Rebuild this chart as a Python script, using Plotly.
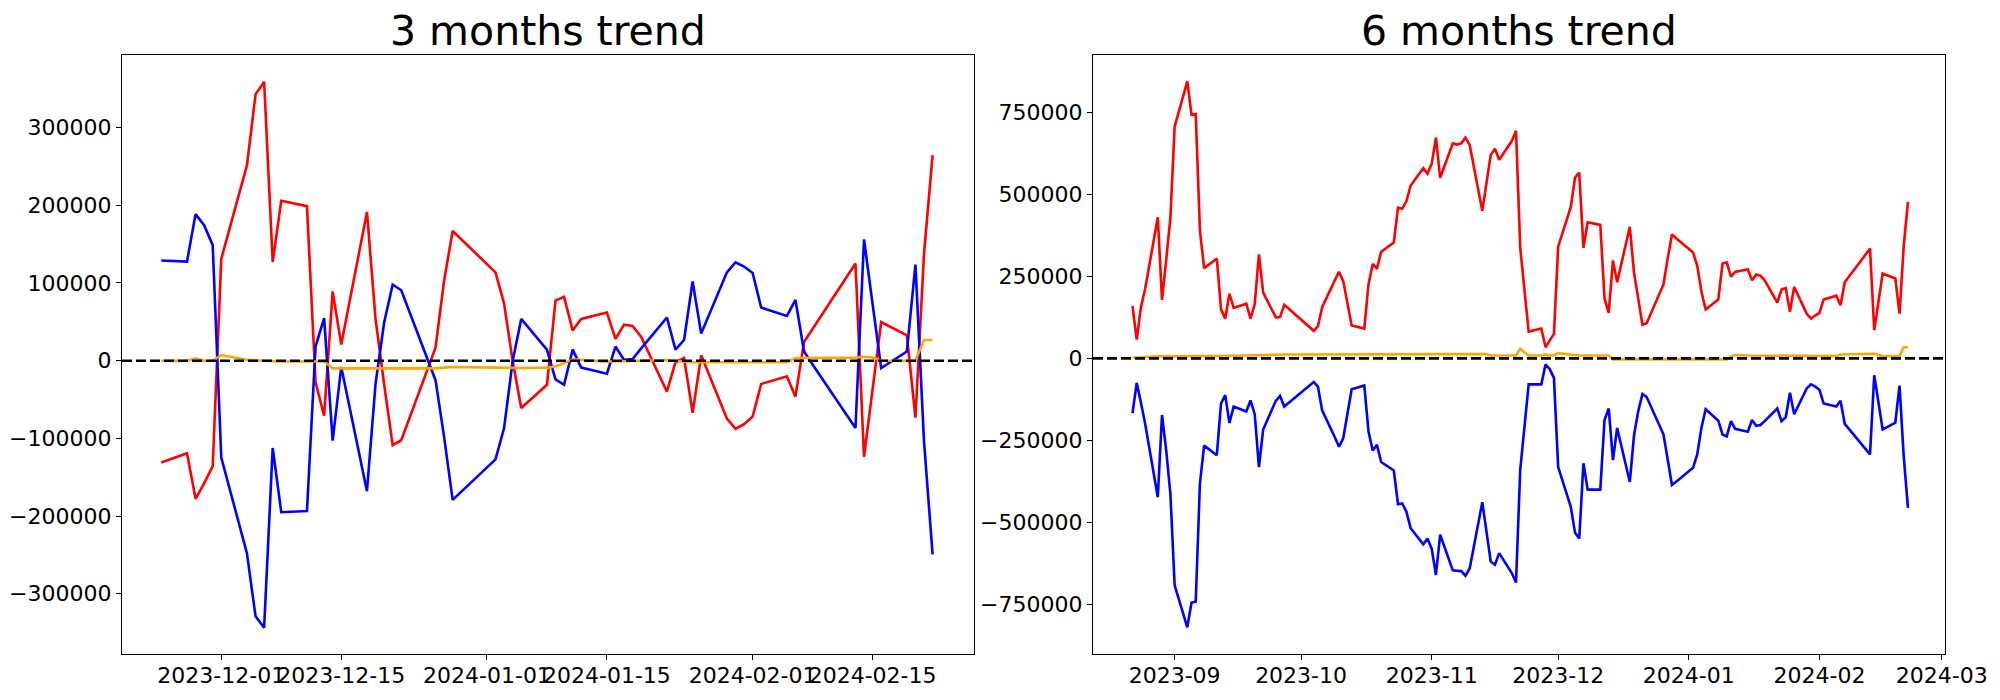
import plotly.graph_objects as go

# ---------------- 3 months data ----------------
dates_3m = (
    ["2023-11-24", "2023-11-27", "2023-11-28", "2023-11-29", "2023-11-30"]
    + ["2023-12-01", "2023-12-04", "2023-12-05", "2023-12-06", "2023-12-07", "2023-12-08",
       "2023-12-11", "2023-12-12", "2023-12-13", "2023-12-14", "2023-12-15",
       "2023-12-18", "2023-12-19", "2023-12-20", "2023-12-21", "2023-12-22",
       "2023-12-26", "2023-12-27", "2023-12-28"]
    + ["2024-01-02", "2024-01-03", "2024-01-04", "2024-01-05",
       "2024-01-08", "2024-01-09", "2024-01-10", "2024-01-11", "2024-01-12",
       "2024-01-15", "2024-01-16", "2024-01-17", "2024-01-18", "2024-01-19",
       "2024-01-22", "2024-01-23", "2024-01-24", "2024-01-25", "2024-01-26",
       "2024-01-29", "2024-01-30", "2024-01-31"]
    + ["2024-02-01", "2024-02-02", "2024-02-05", "2024-02-06", "2024-02-07", "2024-02-08",
       "2024-02-13", "2024-02-14", "2024-02-15", "2024-02-16",
       "2024-02-19", "2024-02-20", "2024-02-21", "2024-02-22"]
)
red_3m = (
    [-131000, -119200, -177800, -158000, -135900]
    + [131000, 251600, 342700, 359000, 127000, 205800,
       198900, -27600, -70900, 89100, 20700,
       191500, 53700, -30000, -108800, -102400,
       16700, 102900, 166900]
    + [113700, 73400, -500, -61000,
       -31000, 77300, 82200, 38900, 53700,
       62000, 28100, 46300, 44800, 30500,
       -39900, -2000, 3400, -67000, 6900,
       -74400, -87600, -81700]
    + [-71900, -30000, -20200, -46300, 24100, 41000,
       125100, -123600, -37000, 49700,
       32500, -73400, 137400, 264400]
)
blue_3m = (
    [129000, 127500, 188600, 174300, 148700]
    + [-124600, -248200, -328900, -343700, -112300, -195000,
       -193500, 18200, 54700, -102900, -8000,
       -167900, -30000, 48700, 98000, 90600,
       -25100, -98000, -179200]
    + [-127000, -86700, -500, 53700,
       14300, -24100, -31000, 14300, -8900,
       -16700, 18200, 1000, 2000, 15800,
       55600, 14300, 26600, 101900, 35000,
       113700, 126500, 121100]
    + [112800, 68400, 57600, 78300, 11800, -5000,
       -86700, 156100, 73000, -9400,
       11800, 123600, -103900, -249200]
)
orange_3m = (
    [0, 0, 3000, 0, 0]
    + [7300, 1000, 500, 0, -500, -1000,
       -1000, -1000, -1000, -9900, -9900,
       -9900, -9900, -9900, -9900, -9900,
       -9900, -8900, -8200]
    + [-9000, -9200, -9400, -9400,
       -9000, -7500, -3400, 2100, 1000,
       -1300, -800, -1000, -500, 0,
       900, -500, -1500, -2000, -2000,
       -2000, -2000, -2000]
    + [-2000, -2000, -2000, 3400, 3400, 3500,
       3900, 5100, 4000, 0,
       0, 0, 26600, 26600]
)

# ---------------- 6 months data ----------------
dates_6m = (
    ["2023-08-%02d" % d for d in [22, 23, 24, 25, 28, 29, 30, 31]]
    + ["2023-09-%02d" % d for d in [1, 4, 5, 6, 7, 8, 11, 12, 13, 14, 15, 18, 19, 20, 21, 22, 25, 26, 27]]
    + ["2023-10-%02d" % d for d in [4, 5, 6, 9, 10, 11, 12, 13, 16, 17, 18, 19, 20, 23, 24, 25, 26, 27, 30, 31]]
    + ["2023-11-%02d" % d for d in [1, 2, 3, 6, 7, 8, 9, 10, 13, 14, 15, 16, 17, 20, 21, 22, 24, 27, 28, 29, 30]]
    + ["2023-12-%02d" % d for d in [1, 4, 5, 6, 7, 8, 11, 12, 13, 14, 15, 18, 19, 20, 21, 22, 26, 27, 28, 29]]
    + ["2024-01-%02d" % d for d in [2, 3, 4, 5, 8, 9, 10, 11, 12, 15, 16, 17, 18, 19, 22, 23, 24, 25, 26, 29, 30, 31]]
    + ["2024-02-%02d" % d for d in [1, 2, 5, 6, 7, 13, 14, 16, 19, 20, 21, 22]]
)
red_6m = (
    [159600, 57100, 156100, 212100, 430000, 178300, 300000, 430000]
    + [706200, 843700, 742300, 744600, 389200, 275000, 304100, 150300, 121200, 196900, 153800,
       166600, 121200, 165500, 317000, 200400, 124700, 125900, 163100]
    + [83900, 97900, 156100, 237700, 263400, 235400, 167800, 100200, 90900, 226100, 287800,
       272700, 325100, 353100, 459100, 455600, 479000, 526700, 579100, 562800]
    + [593100, 672400, 550000, 654900, 651400, 654900, 672400, 650200, 449800, 538400, 619900,
       638600, 604800, 661900, 693400, 336800, 81600, 90900, 33800, 54800, 74600]
    + [340300, 461500, 550000, 566300, 336800, 414800, 406700, 181800, 138700, 298300, 231900,
       400900, 261000, 181800, 102500, 107200, 226100, 305300, 377600, 365900]
    + [322800, 282000, 202800, 149200, 179500, 289000, 292500, 249400, 263400, 271500, 237700,
       255200, 251700, 237700, 170100, 209800, 214400, 142200, 217900, 135200, 121200, 130500]
    + [138700, 179500, 191100, 162000, 231900, 334400, 86200, 258700, 243500, 136300, 342600, 476600]
)
blue_6m = (
    [-166600, -74600, -135200, -199300, -423000, -172500, -280800, -414800]
    + [-691000, -819200, -743500, -741100, -379900, -265700, -294800, -137500, -111900, -196900, -146800,
       -162000, -128200, -170100, -330900, -216700, -129300, -114200, -146800]
    + [-72200, -86200, -158500, -240000, -269200, -243500, -170100, -94400, -82700, -222600, -280800,
       -263400, -315800, -341400, -444000, -441700, -467300, -517400, -566300, -548900]
    + [-580300, -659600, -537200, -645600, -646700, -647900, -661900, -639800, -438200, -531400, -618800,
       -628100, -593100, -653700, -682900, -339100, -79200, -79200, -18600, -32600, -59400]
    + [-330900, -452100, -531400, -548900, -319300, -399700, -399700, -187600, -152600, -310000, -212100,
       -376400, -234200, -160800, -108400, -117700, -231900, -310000, -385700, -376000]
    + [-333300, -292500, -210900, -155000, -189900, -231900, -237700, -191100, -214400, -223700, -187600,
       -205100, -202800, -191100, -152600, -191100, -179500, -104900, -170100, -90900, -79200, -86200]
    + [-95600, -137500, -146800, -129300, -199300, -292500, -51300, -216700, -195800, -82700, -298300, -455600]
)
orange_6m = (
    [2000, 3000, 4000, 5000, 6000, 6000, 6000, 6000]
    + [6000, 7000, 6000, 6000, 6000, 6000, 7000, 8000, 8000, 8000, 8000,
       9000, 9000, 9000, 9000, 10000, 11000, 12000, 12000]
    + [13000, 13000, 13000, 13000, 13000, 13000, 13000, 13000, 13000, 13000, 13000,
       13000, 13000, 13000, 13000, 13000, 13000, 13000, 13000, 13000]
    + [13000, 13000, 13000, 13000, 13000, 13000, 13000, 13000, 13000, 13000, 9000,
       9000, 9000, 9000, 9000, 29000, 9000, 9000, 12000, 9000, 9000]
    + [16000, 12000, 9000, 9000, 9000, 9000, 9000, 9000, 9000, -3000, -3000,
       -3000, -3000, -3000, -3000, -3000, -3000, -3000, -3000, -3000]
    + [-3000, -3000, -3000, -3000, -3000, -3000, -3000, 5000, 11000, 9000, 9000,
       9000, 9000, 8000, 7000, 7000, 7000, 7000, 7000, 7000, 7000, 7000]
    + [7000, 7000, 7000, 12000, 12000, 12000, 14000, 7000, 7000, 7000, 34000, 34000]
)

titles = ["3 months trend", "6 months trend"]
ticks_3m_x = ["2023-12-01", "2023-12-15", "2024-01-01", "2024-01-15", "2024-02-01", "2024-02-15"]
ticks_6m_x = ["2023-09-01", "2023-10-01", "2023-11-01", "2023-12-01", "2024-01-01", "2024-02-01", "2024-03-01"]
ticks_3m_y = [-300000, -200000, -100000, 0, 100000, 200000, 300000]
ticks_6m_y = [-750000, -500000, -250000, 0, 250000, 500000, 750000]

assert len(dates_3m) == len(red_3m) == len(blue_3m) == len(orange_3m)
assert len(dates_6m) == len(red_6m) == len(blue_6m) == len(orange_6m)

# page has an 8px body margin; plot area targeted at page x 122..1945, y 55..654
OFF = 8
W, H = 2000 - 2 * OFF, 700 - 2 * OFF
ml, mt = 122 - OFF, 55 - OFF
pw, ph = 1945 - 122, 654 - 55
mr, mb = W - ml - pw, H - mt - ph
d1 = [0, (974 - 122) / pw]
d2 = [(1093 - 122) / pw, 1]

fig = go.Figure()
series = [(dates_3m, red_3m, blue_3m, orange_3m, "x", "y"),
          (dates_6m, red_6m, blue_6m, orange_6m, "x2", "y2")]
for dts, r, b, o, xa, ya in series:
    for vals, col in [(r, "#ff0000"), (b, "#0000ff"), (o, "#ffa500")]:
        fig.add_trace(go.Scatter(x=dts, y=vals, mode="lines", xaxis=xa, yaxis=ya,
                                 line=dict(color=col, width=2.6), showlegend=False,
                                 hoverinfo="skip"))


def fmt(v):
    return str(v).replace("-", "\u2212")


font = dict(family="DejaVu Sans", size=22, color="black")
axis_common = dict(showgrid=False, zeroline=False, showline=True, linecolor="black",
                   linewidth=1.2, mirror=True, ticks="outside", ticklen=5, tickwidth=1.2,
                   tickcolor="black", tickfont=font, tickangle=0, automargin=False)

fig.update_layout(
    width=W, height=H, margin=dict(l=ml, r=mr, t=mt, b=mb, autoexpand=False),
    paper_bgcolor="white", plot_bgcolor="white", showlegend=False,
    xaxis=dict(domain=d1, type="date", anchor="y",
               range=["2023-11-19 10:00", "2024-02-26 20:00"], ticklabelstandoff=-4,
               tickvals=ticks_3m_x, ticktext=ticks_3m_x, **axis_common),
    yaxis=dict(domain=[0, 1], anchor="x", range=[-377500, 393400],
               tickvals=ticks_3m_y, ticktext=[fmt(v) for v in ticks_3m_y], **axis_common),
    xaxis2=dict(domain=d2, type="date", anchor="y2",
                range=["2023-08-12 15:00", "2024-03-01 19:00"], ticklabelstandoff=-4,
                tickvals=ticks_6m_x, ticktext=[t[:7] for t in ticks_6m_x], **axis_common),
    yaxis2=dict(domain=[0, 1], anchor="x2", range=[-900400, 924100],
                tickvals=ticks_6m_y, ticktext=[fmt(v) for v in ticks_6m_y], **axis_common),
)

for xa in ["x", "x2"]:
    fig.add_shape(type="line", xref=f"{xa} domain", yref=xa.replace("x", "y"),
                  x0=0, x1=1, y0=0, y1=0, layer="above",
                  line=dict(color="black", width=2.6, dash="10px,4px"))

title_y_page = 31
for title, dom in zip(titles, [d1, d2]):
    fig.add_annotation(text=title, xref="paper", yref="paper",
                       x=(dom[0] + dom[1]) / 2, y=(654 - title_y_page) / ph,
                       xanchor="center", yanchor="middle", showarrow=False,
                       font=dict(family="DejaVu Sans", size=41, color="black"))

fig.write_html("out.html")
